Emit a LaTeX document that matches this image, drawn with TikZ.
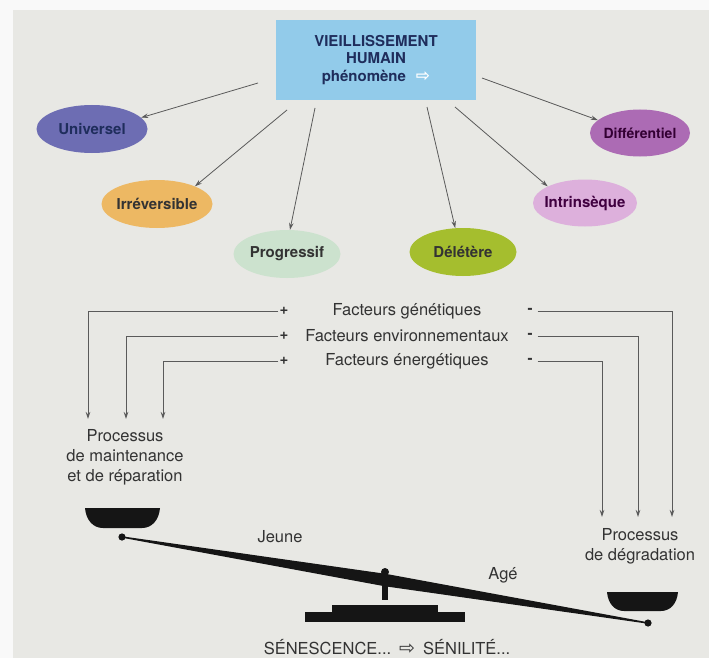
\documentclass[tikz,border=0pt]{standalone}
\usepackage{fontspec}
\setmainfont{TeX Gyre Heros}
\newfontfamily\symfont{DejaVu Sans}
\usetikzlibrary{shapes.geometric,arrows.meta,calc}
\definecolor{bgpage}{HTML}{E8E8E4}
\definecolor{boxblue}{HTML}{92CBEA}
\definecolor{navy}{HTML}{1F2D5C}
\definecolor{cuniv}{HTML}{6D6DB3}
\definecolor{cirrev}{HTML}{EDB863}
\definecolor{cprogr}{HTML}{CCE2CE}
\definecolor{cdelet}{HTML}{A5BE2E}
\definecolor{cintrin}{HTML}{DDB0DC}
\definecolor{cdiffer}{HTML}{AC6BB4}
\definecolor{linegray}{HTML}{5A5A5A}
\definecolor{txtgray}{HTML}{333333}
\definecolor{beamblack}{HTML}{151515}

\begin{document}
\begin{tikzpicture}[x=1pt,y=-1pt,>={Stealth[length=7pt,width=4.5pt]},
    bulle/.style={ellipse,minimum height=48pt,inner xsep=-8pt,inner ysep=0pt,
      font=\bfseries\fontsize{15}{17}\selectfont},
    fleche/.style={->,draw=linegray,line width=0.8pt},
    lien/.style={->,draw=linegray,line width=0.9pt},
    txt/.style={font=\fontsize{16.5}{20}\selectfont,text=txtgray,align=center},
    signe/.style={font=\bfseries\fontsize{15}{15}\selectfont,text=txtgray,inner sep=1pt}]
  \useasboundingbox (0,0) rectangle (709,658);
  \fill[white!95!gray] (0,0) rectangle (709,658);
  \fill[bgpage] (13,10) rectangle (709,658);
  % titre et caracteres du vieillissement
  \node[fill=boxblue,minimum width=200pt,minimum height=80pt,align=center,
        font=\bfseries\fontsize{15}{17.5}\selectfont,text=navy] (vh) at (376,60)
        {VIEILLISSEMENT\\HUMAIN\\phénomène\hspace{10pt}{\symfont\fontsize{17}{17}\selectfont\color{white}⇨}};
  \node[bulle,minimum width=111pt,fill=cuniv,text=navy] (univ) at (92,129) {Universel};
  \node[bulle,minimum width=111pt,fill=cirrev,text=black!80] (irrev) at (157,204) {Irréversible};
  \node[bulle,minimum width=107pt,fill=cprogr,text=black!80] (progr) at (287,254) {Progressif};
  \node[bulle,minimum width=107pt,fill=cdelet,text=black!80] (delet) at (463,252) {Délétère};
  \node[bulle,minimum width=104pt,minimum height=47pt,fill=cintrin,text=violet!50!black] (intrin) at (585,203) {Intrinsèque};
  \node[bulle,minimum width=100pt,minimum height=47pt,fill=cdiffer,text=violet!40!black,
        font=\bfseries\fontsize{14}{16}\selectfont] (differ) at (640,133) {Différentiel};
  \coordinate (a1) at (258,83);
  \coordinate (a2) at (287,110);
  \coordinate (a3) at (315,108);
  \coordinate (a4) at (427,107);
  \coordinate (a5) at (455,107);
  \coordinate (a6) at (482,78);
  \draw[fleche] (a1) -- (univ.13);
  \draw[fleche] (a2) -- (irrev.25);
  \draw[fleche] (a3) -- (progr.83);
  \draw[fleche] (a4) -- (delet.108);
  \draw[fleche] (a5) -- (intrin.156);
  \draw[fleche] (a6) -- (differ.163);
  % facteurs
  \node[txt] (fgen) at (407,311) {Facteurs génétiques};
  \node[txt] (fenv) at (407,336) {Facteurs environnementaux};
  \node[txt] (fene) at (407,361) {Facteurs énergétiques};
  \foreach \f/\y in {gen/311,env/336,ene/361}{
    \node[signe] (p\f) at (284,\y) {+};
    \node[signe] (m\f) at (530,\y) {-};
  }
  \coordinate (g1) at (88,419);
  \coordinate (g2) at (126,419);
  \coordinate (g3) at (163,419);
  \coordinate (d1) at (672,517);
  \coordinate (d2) at (638,517);
  \coordinate (d3) at (602,517);
  \draw[lien] (pgen.west) -| (g1);
  \draw[lien] (penv.west) -| (g2);
  \draw[lien] (pene.west) -| (g3);
  \draw[lien,shorten <=4pt] (mgen.east) -| (d1);
  \draw[lien,shorten <=4pt] (menv.east) -| (d2);
  \draw[lien,shorten <=4pt] (mene.east) -| (d3);
  \node[txt] (maint) at (125,457) {Processus\\de maintenance\\et de réparation};
  \node[txt] (degr) at (640,546) {Processus\\de dégradation};
  % balance
  \coordinate (bl) at (122,537);
  \coordinate (br) at (648,623);
  \coordinate (bm) at ($(bl)!0.5!(br)$);
  \fill[beamblack] (382,600) rectangle (388,575);
  \fill[beamblack] (332,605) rectangle (438,613);
  \fill[beamblack] (305,612) rectangle (465,622);
  \filldraw[beamblack,line width=1.4pt,line join=round]
    (bl) -- ($(bm)!5.5pt!90:(br)$) -- (br) -- ($(bm)!5.5pt!-90:(br)$) -- cycle;
  \fill[beamblack] (385,572) circle (4);
  \fill[beamblack] (bl) circle (3.6);
  \fill[beamblack] (br) circle (3.6);
  \fill[beamblack] (85,508) -- (160,508) .. controls (159,520) and (152,528) .. (142,528)
    -- (103,528) .. controls (93,528) and (86,520) .. (85,508) -- cycle;
  \fill[beamblack] (607,592) -- (678,592) .. controls (677,604) and (670,611) .. (661,611)
    -- (624,611) .. controls (615,611) and (608,604) .. (607,592) -- cycle;
  \node[txt] (jeune) at (280,537) {Jeune};
  \node[txt] (age) at (503,575) {Agé};
  \node[txt] (senes) at (387,647) {SÉNESCENCE...\hspace{8pt}{\symfont\fontsize{19}{19}\selectfont ⇨}\hspace{8pt}SÉNILITÉ...};
\end{tikzpicture}
\end{document}
